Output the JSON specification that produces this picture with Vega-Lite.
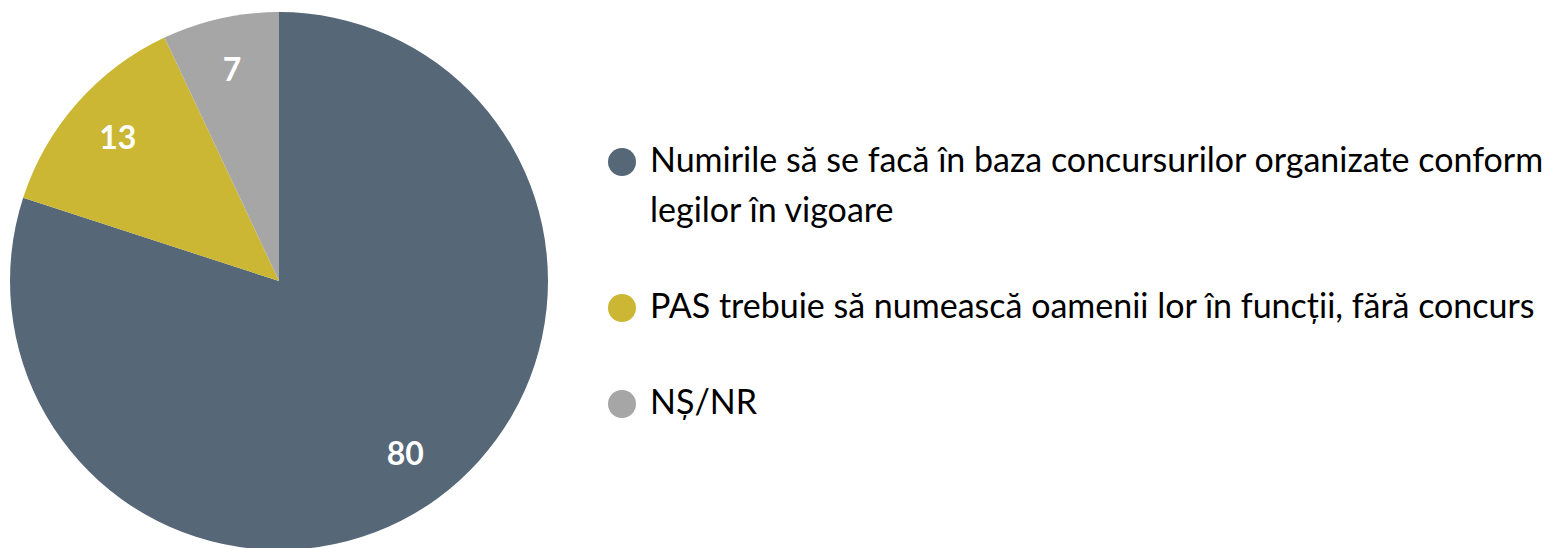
{
  "$schema": "https://vega.github.io/schema/vega-lite/v6.json",
  "width": 558,
  "height": 548,
  "padding": {"left": 0, "top": 7, "right": 0, "bottom": 0},
  "autosize": {"type": "pad"},
  "background": "white",
  "view": {"stroke": null},
  "data": {
    "values": [
      {"category": "Numirile să se facă în baza concursurilor organizate conform legilor în vigoare", "value": 80, "order": 1},
      {"category": "PAS trebuie să numească oamenii lor în funcții, fără concurs", "value": 13, "order": 2},
      {"category": "NȘ/NR", "value": 7, "order": 3}
    ]
  },
  "encoding": {
    "theta": {"field": "value", "type": "quantitative", "stack": true},
    "order": {"field": "order", "type": "quantitative"}
  },
  "layer": [
    {
      "mark": {"type": "arc", "outerRadius": 269},
      "encoding": {
        "color": {
          "field": "category",
          "type": "nominal",
          "scale": {
            "domain": [
              "Numirile să se facă în baza concursurilor organizate conform legilor în vigoare",
              "PAS trebuie să numească oamenii lor în funcții, fără concurs",
              "NȘ/NR"
            ],
            "range": ["#566777", "#CBB733", "#A6A6A6"]
          },
          "legend": {
            "title": null,
            "orient": "none",
            "legendX": 605,
            "legendY": 138,
            "symbolType": "circle",
            "symbolSize": 784,
            "symbolStrokeWidth": 0,
            "symbolOpacity": 1,
            "labelFont": "Lato",
            "labelFontSize": 34,
            "labelColor": "black",
            "labelLimit": 1200,
            "labelOffset": 11,
            "rowPadding": 62,
            "encode": {"labels": {"update": {"lineHeight": {"value": 50}}}},
            "labelExpr": "datum.label == 'Numirile să se facă în baza concursurilor organizate conform legilor în vigoare' ? ['Numirile să se facă în baza concursurilor organizate conform', 'legilor în vigoare'] : datum.label"
          }
        }
      }
    },
    {
      "mark": {"type": "text", "radius": 215, "font": "Lato", "fontWeight": "bold", "fontSize": 32, "color": "white"},
      "encoding": {
        "text": {"field": "value", "type": "quantitative"}
      }
    }
  ]
}
